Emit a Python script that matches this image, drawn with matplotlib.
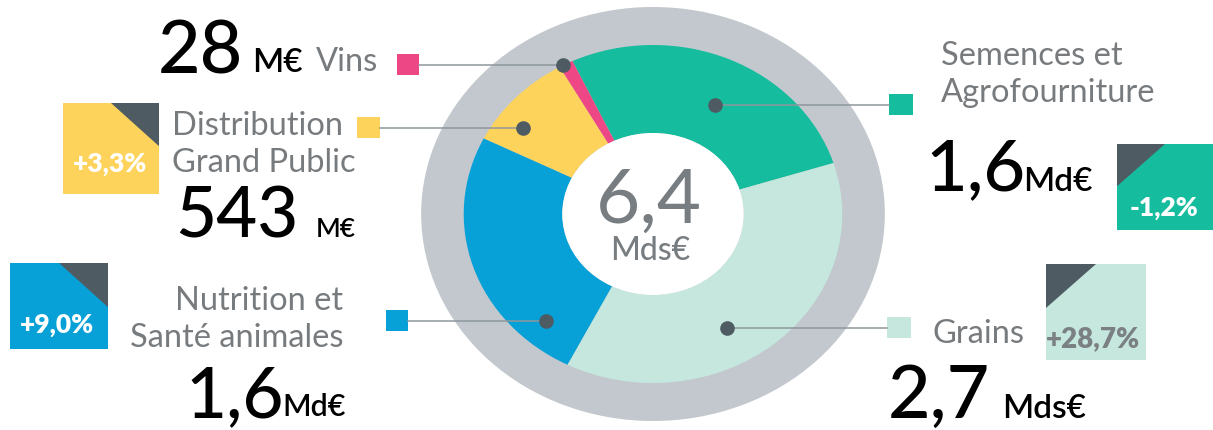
import matplotlib.pyplot as plt
from matplotlib.patches import Circle, Rectangle, Polygon

# segments, clockwise from the top (Semences first)
segments = ["Semences et\nAgrofourniture", "Grains", "Nutrition et\nSanté animales",
            "Distribution\nGrand Public", "Vins"]
share = [27.1, 37.3, 24.9, 9.4, 1.2]       # angular share of the ring, %
amounts = ["1,6", "2,7", "1,6", "543", "28"]
units = ["Md€", "Mds€", "Md€", "M€", "M€"]
growth = ["-1,2%", "+28,7%", "+9,0%", "+3,3%", None]
colors = ["#15bc9d", "#c5e7de", "#07a1d8", "#fdd35c", "#ee4785"]
total = "6,4"
total_unit = "Mds€"

W, H = 1213, 430
SX = 1.12  # the original picture is stretched horizontally
CX, CY = 653, 214
GREY = "#c2c8cd"
DARK = "#4f5b63"
LABEL = "#777b7e"
LINE = "#8d979d"

plt.rcParams['font.family'] = ['Lato', 'DejaVu Sans']

fig = plt.figure(figsize=(W / 100, H / 100), dpi=100)

# donut, drawn in an axes whose x units are squeezed by SX
axp = fig.add_axes([0, 0, 1, 1])
axp.add_patch(Circle((CX / SX, H - CY), 207, color=GREY, zorder=0, lw=0))
axp.pie(share, colors=colors, startangle=115.2, counterclock=False, radius=169,
        center=(CX / SX, H - CY), wedgeprops=dict(width=88, linewidth=0))
axp.add_patch(Circle((CX / SX, H - CY), 81, color='white', zorder=5, lw=0))
axp.set_aspect('auto')
axp.set_xlim(0, W / SX)
axp.set_ylim(0, H)
axp.axis('off')

# overlay in pixel coordinates
ax = fig.add_axes([0, 0, 1, 1], facecolor='none')
ax.set_xlim(0, W)
ax.set_ylim(H, 0)
ax.axis('off')

# leader lines: (dot x, dot y, square x0, square x1)
leaders = [
    (715, 105, 889, 913),
    (727, 328, 887, 911),
    (546, 321, 386, 408),
    (523, 128, 357, 380),
    (563, 65, 397, 419),
]
for (dx, dy, s0, s1), c in zip(leaders, colors):
    x_end = s0 if s0 > dx else s1
    ax.plot([dx, x_end], [dy, dy], color=LINE, lw=1.1, zorder=2)
    ax.plot(dx, dy, 'o', color=DARK, ms=9.5, zorder=3)
    ax.add_patch(Rectangle((s0, dy - 11), s1 - s0, 21, color=c, lw=0))

# category labels
lab = dict(color=LABEL, fontweight='normal', va='baseline', fontsize=23.5)
ax.text(941, 65, segments[0].split("\n")[0], ha='left', **lab)
ax.text(941, 102, segments[0].split("\n")[1], ha='left', **lab)
ax.text(932, 343, segments[1], ha='left', **lab)
ax.text(343, 310, segments[2].split("\n")[0], ha='right', **lab)
ax.text(343, 347, segments[2].split("\n")[1], ha='right', **lab)
ax.text(172, 135, segments[3].split("\n")[0], ha='left', **lab)
ax.text(172, 172, segments[3].split("\n")[1], ha='left', **lab)
ax.text(316, 71, segments[4], ha='left', **lab)

# amounts: (x, baseline, size, unit x, unit baseline, unit size)
amt_pos = [
    (925, 190, 52, 1023, 191, 24),
    (888, 418, 53, 1002, 418, 24),
    (185, 417, 51, 282, 416, 22),
    (175, 238, 51, 316, 237, 19),
    (158, 74, 53, 252, 72, 24),
]
for a, u, (x, y, s, ux, uy, us) in zip(amounts, units, amt_pos):
    ax.text(x, y, a, fontsize=s, color='black', va='baseline', ha='left', fontweight='medium')
    ax.text(ux, uy, u, fontsize=us, color='black', va='baseline', ha='left', fontweight='semibold')

# growth badges: (x0, y0, x1, y1, triangle corner, text colour, text x, baseline, size)
badges = [
    (1117, 144, 1213, 230, 'left', 'white', 1164, 216, 19),
    (1046, 264, 1146, 360, 'left', '#7b8083', 1093, 347, 20),
    (10, 263, 108, 349, 'right', 'white', 57, 333, 19),
    (63, 103, 159, 194, 'right', 'white', 110, 172, 19),
]
for g, c, (x0, y0, x1, y1, side, tc, tx, ty, ts) in zip(growth, colors, badges):
    ax.add_patch(Rectangle((x0, y0), x1 - x0, y1 - y0, color=c, lw=0))
    leg = 0.5 * (x1 - x0)
    if side == 'left':
        tri = [(x0, y0), (x0 + leg, y0), (x0, y0 + leg * 0.88)]
    else:
        tri = [(x1, y0), (x1 - leg, y0), (x1, y0 + leg * 0.9)]
    ax.add_patch(Polygon(tri, closed=True, color=DARK, lw=0))
    ax.text(tx, ty, g, fontsize=ts, fontweight='heavy', color=tc, ha='center', va='baseline')

# total in the centre
ax.text(649, 223, total, fontsize=55, color='#777d80', ha='center', va='baseline')
ax.text(650, 260, total_unit, fontsize=23, color='#777d80', ha='center', va='baseline',
        fontweight='medium')

fig.savefig("out.png", dpi=100)
